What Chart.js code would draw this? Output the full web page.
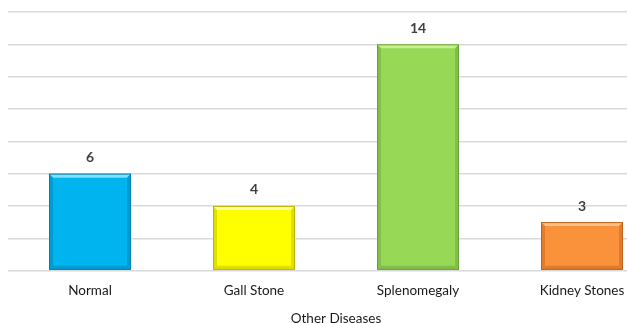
<!DOCTYPE html>
<html>
<head>
<meta charset="utf-8">
<script src="https://cdn.jsdelivr.net/npm/chart.js@4/dist/chart.umd.min.js"></script>
<style>
html,body{margin:0;padding:0;overflow:hidden;background:#fff;}
#wrap{position:absolute;left:0;top:0;width:672px;height:327px;}
</style>
</head>
<body>
<div id="wrap"><canvas id="c"></canvas></div>
<script>
const categories = ["Normal", "Gall Stone", "Splenomegaly", "Kidney Stones"];
const values = [6, 4, 14, 3];
const axisTitle = "Other Diseases";
const yMin = 0, yMax = 16, yStep = 2;

const fills = ["#00B4F0", "#FFFF00", "#97D957", "#F9923A"];
const lights = ["#7FE0FF", "#FFFFA0", "#C8F08F", "#FFC08A"];
const darks = ["#0080B0", "#B8B800", "#6A9E3A", "#C0621A"];

const FONT = 'Lato, "Open Sans", sans-serif';

const bevelPlugin = {
  id: 'bevel',
  afterDatasetsDraw(chart) {
    const ctx = chart.ctx;
    const meta = chart.getDatasetMeta(0);
    meta.data.forEach((bar, i) => {
      const p = bar.getProps(['x','y','base','width'], true);
      const l = p.x - p.width/2, r = p.x + p.width/2, t = p.y, b = p.base;
      const d = 4;
      ctx.save();
      ctx.fillStyle = lights[i];
      ctx.beginPath();
      ctx.moveTo(l, t); ctx.lineTo(r, t); ctx.lineTo(r-d, t+d); ctx.lineTo(l+d, t+d); ctx.closePath();
      ctx.fill();
      ctx.globalAlpha = 0.45;
      ctx.fillStyle = darks[i];
      ctx.beginPath();
      ctx.moveTo(l, t); ctx.lineTo(l+d, t+d); ctx.lineTo(l+d, b-d); ctx.lineTo(l, b); ctx.closePath();
      ctx.fill();
      ctx.beginPath();
      ctx.moveTo(r, t); ctx.lineTo(r-d, t+d); ctx.lineTo(r-d, b-d); ctx.lineTo(r, b); ctx.closePath();
      ctx.fill();
      ctx.beginPath();
      ctx.moveTo(l, b); ctx.lineTo(l+d, b-d); ctx.lineTo(r-d, b-d); ctx.lineTo(r, b); ctx.closePath();
      ctx.fill();
      ctx.globalAlpha = 1;
      ctx.strokeStyle = darks[i];
      ctx.lineWidth = 1;
      ctx.strokeRect(l+0.5, t+0.5, p.width-1, b-t-1);
      ctx.restore();
      ctx.save();
      ctx.fillStyle = '#404040';
      ctx.font = 'bold 14px ' + FONT;
      ctx.textAlign = 'center';
      ctx.textBaseline = 'middle';
      ctx.fillText(String(values[i]), p.x, t - 16);
      ctx.restore();
    });
  }
};

new Chart(document.getElementById('c'), {
  type: 'bar',
  data: {
    labels: categories,
    datasets: [{
      data: values,
      backgroundColor: fills,
      borderWidth: 0,
      categoryPercentage: 1.0,
      barPercentage: 0.5
    }]
  },
  options: {
    responsive: true,
    maintainAspectRatio: false,
    animation: false,
    events: [],
    layout: { padding: { left: 8, right: 8, top: 12, bottom: 0 } },
    plugins: { legend: { display: false }, tooltip: { enabled: false } },
    scales: {
      x: {
        grid: { display: false },
        border: { display: false },
        ticks: { color: '#1a1a1a', font: { family: FONT, size: 13.5 }, padding: 4, maxRotation: 0 },
        title: { display: true, text: axisTitle, color: '#1a1a1a', font: { family: FONT, size: 13.5 }, padding: { top: 8, bottom: 0 } }
      },
      y: {
        min: yMin, max: yMax,
        ticks: { display: false, stepSize: yStep },
        grid: { color: '#D9D9D9', lineWidth: 1.5, drawTicks: false },
        border: { display: false }
      }
    }
  },
  plugins: [bevelPlugin]
});
</script>
</body>
</html>
